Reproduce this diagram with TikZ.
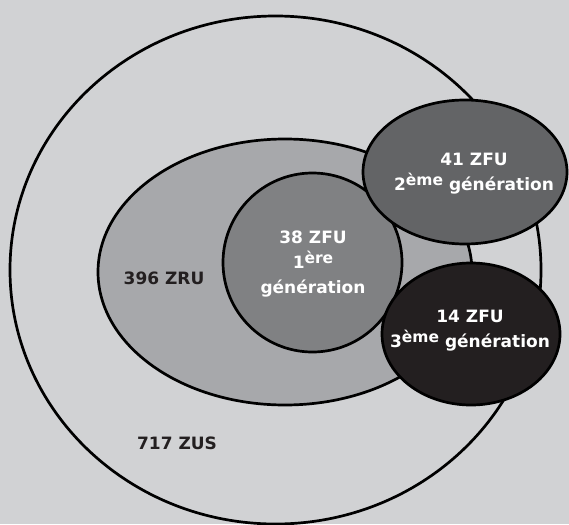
\documentclass[tikz,border=0pt]{standalone}
\usepackage{fontspec}
\setmainfont{DejaVu Sans}

\definecolor{fondgris}{HTML}{D1D2D4}
\definecolor{gris1}{HTML}{A7A8AB}
\definecolor{gris2}{HTML}{808183}
\definecolor{gris3}{HTML}{636466}
\definecolor{noir3}{HTML}{231F20}

\newcommand{\expo}[1]{\raisebox{5pt}{\fontsize{15.5}{15.5}\selectfont #1}}

\tikzset{
  zone/.style={line width=2.7pt, draw=black},
  etiq/.style={font=\fontsize{17}{25}\selectfont\bfseries, align=center, anchor=base, inner sep=0pt},
}

\begin{document}
\begin{tikzpicture}[x=1pt, y=-1pt]
            % Define points
            \coordinate (Coin) at (0,0);
            \coordinate (Fin) at (569,524);
            \coordinate (ZUS) at (275.5,270);
            \coordinate (ZRU) at (285,272);
            \coordinate (Gen1) at (312.5,262.5);
            \coordinate (Gen2) at (465,172);
            \coordinate (Gen3) at (471,334);

            % Background
            \useasboundingbox (Coin) rectangle (Fin);
            \fill[fondgris] (Coin) rectangle (Fin);

            % Draw zones
            \draw[zone, fill=fondgris] (ZUS) ellipse [x radius=265.5pt, y radius=254pt];
            \draw[zone, fill=gris1] (ZRU) ellipse [x radius=187pt, y radius=133pt];
            \draw[zone, fill=gris2] (Gen1) circle [radius=89.5pt];
            \draw[zone, fill=gris3] (Gen2) ellipse [x radius=102pt, y radius=72pt];
            \draw[zone, fill=noir3] (Gen3) ellipse [x radius=89pt, y radius=71pt];

            % Labels (base = last line)
            \node[etiq, text=noir3] (lzus) at (177,449) {717 ZUS};
            \node[etiq, text=noir3] (lzru) at (164,284) {396 ZRU};
            \node[etiq, text=white] (lgen1) at (313,293) {38 ZFU\\1\expo{ère}\\génération};
            \node[etiq, text=white] (lgen2) at (474,190) {41 ZFU\\2\expo{ème} génération};
            \node[etiq, text=white] (lgen3) at (470,347) {14 ZFU\\3\expo{ème} génération};
        \end{tikzpicture}
\end{document}
